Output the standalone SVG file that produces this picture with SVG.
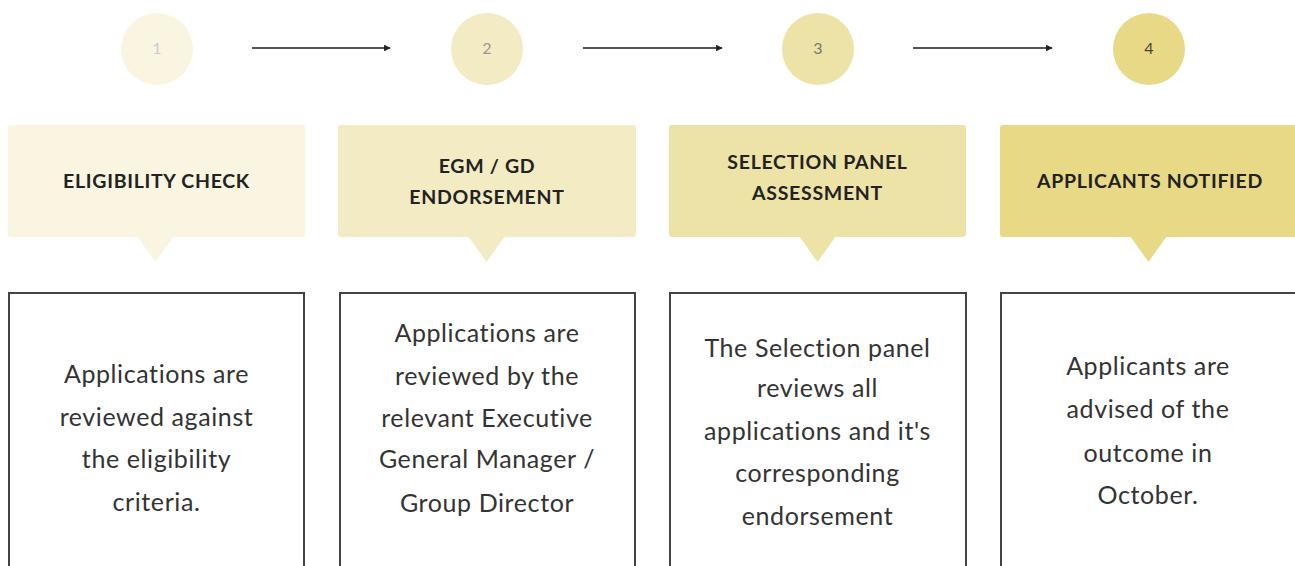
<svg xmlns="http://www.w3.org/2000/svg" width="1295" height="566" viewBox="0 0 1295 566">
<defs>
<marker id="arr" viewBox="0 0 10 10" refX="9" refY="5" markerWidth="3" markerHeight="3" orient="auto" markerUnits="strokeWidth">
<path d="M0,0 L10,5 L0,10 z" fill="#222"/>
</marker>
<style>
.num{font-family:Lato,"Liberation Sans",sans-serif;font-size:16px;text-anchor:middle}
.hd{font-family:Lato,"Liberation Sans",sans-serif;font-weight:bold;font-size:19.5px;fill:#222;text-anchor:middle;letter-spacing:0.7px}
.bd{font-family:Lato,"Liberation Sans",sans-serif;font-size:25px;fill:#333;text-anchor:middle;letter-spacing:0.6px}
.body{fill:#fff;stroke:#444;stroke-width:2}
.c1{fill:#F9F5E1}.c2{fill:#F3EBC3}.c3{fill:#EEE3A6}.c4{fill:#E8D987}
.conn{stroke:#555;stroke-width:2.2;fill:none}
</style>
</defs>
<rect width="1295" height="566" fill="#fff"/>
<g id="connectors">
<line class="conn" x1="252" y1="48" x2="390" y2="48" marker-end="url(#arr)"/>
<line class="conn" x1="583" y1="48" x2="722" y2="48" marker-end="url(#arr)"/>
<line class="conn" x1="913" y1="48" x2="1052" y2="48" marker-end="url(#arr)"/>
</g>
<g id="step1">
<circle class="c1" cx="157" cy="49" r="36"/>
<text class="num" x="157" y="54" fill="#ccc">1</text>
<rect class="c1" x="8" y="125" width="297" height="112" rx="3"/>
<path class="c1" d="M137,236 L174,236 L155.5,262 z"/>
<text class="hd" x="156.5" y="188">ELIGIBILITY CHECK</text>
<rect class="body" x="9" y="293" width="295" height="290"/>
<text class="bd"><tspan x="156.5" y="383">Applications are</tspan><tspan x="156.5" y="426">reviewed against</tspan><tspan x="156.5" y="468">the eligibility</tspan><tspan x="156.5" y="511">criteria.</tspan></text>
</g>
<g id="step2">
<circle class="c2" cx="487" cy="49" r="36"/>
<text class="num" x="487" y="54" fill="#999">2</text>
<rect class="c2" x="338" y="125" width="298" height="112" rx="3"/>
<path class="c2" d="M468,236 L505,236 L486.5,262 z"/>
<text class="hd"><tspan x="487" y="173">EGM / GD</tspan><tspan x="487" y="204">ENDORSEMENT</tspan></text>
<rect class="body" x="340" y="293" width="295" height="290"/>
<text class="bd"><tspan x="487" y="342">Applications are</tspan><tspan x="487" y="385">reviewed by the</tspan><tspan x="487" y="427">relevant Executive</tspan><tspan x="487" y="468">General Manager /</tspan><tspan x="487" y="512">Group Director</tspan></text>
</g>
<g id="step3">
<circle class="c3" cx="818" cy="49" r="36"/>
<text class="num" x="818" y="54" fill="#777">3</text>
<rect class="c3" x="669" y="125" width="297" height="112" rx="3"/>
<path class="c3" d="M799,236 L836,236 L817.5,262 z"/>
<text class="hd"><tspan x="817.5" y="169">SELECTION PANEL</tspan><tspan x="817.5" y="200">ASSESSMENT</tspan></text>
<rect class="body" x="670" y="293" width="296" height="290"/>
<text class="bd"><tspan x="817.5" y="357">The Selection panel</tspan><tspan x="817.5" y="397">reviews all</tspan><tspan x="817.5" y="440">applications and it's</tspan><tspan x="817.5" y="482">corresponding</tspan><tspan x="817.5" y="525">endorsement</tspan></text>
</g>
<g id="step4">
<circle class="c4" cx="1149" cy="49" r="36"/>
<text class="num" x="1149" y="54" fill="#444">4</text>
<rect class="c4" x="1000" y="125" width="305" height="112" rx="3"/>
<path class="c4" d="M1130,236 L1167,236 L1148.5,262 z"/>
<text class="hd" x="1150" y="188">APPLICANTS NOTIFIED</text>
<rect class="body" x="1001" y="293" width="310" height="290"/>
<text class="bd"><tspan x="1148" y="375">Applicants are</tspan><tspan x="1148" y="418">advised of the</tspan><tspan x="1148" y="462">outcome in</tspan><tspan x="1148" y="504">October.</tspan></text>
</g>
</svg>
